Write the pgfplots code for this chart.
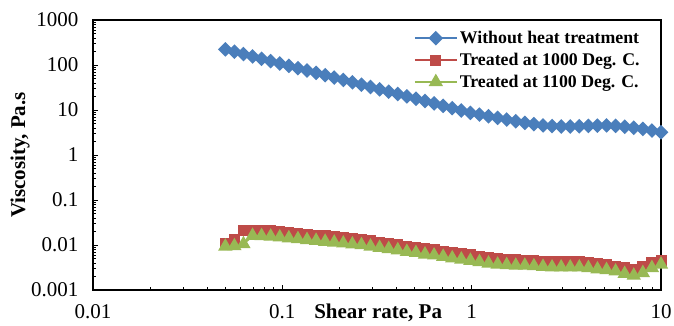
\documentclass[border=0pt]{standalone}
\usepackage{fontspec}
\setmainfont{Liberation Serif}
\usepackage{pgfplots}
\usepackage{pgfplotstable}
\pgfplotsset{compat=1.18}
\definecolor{cblue}{HTML}{4A7EBB}
\definecolor{cred}{HTML}{BE4B48}
\definecolor{cgreen}{HTML}{98B954}

\pgfplotstableread{
x blue red green
0.05000 222.6 0.0110 0.0093
0.05583 197.4 0.0130 0.0095
0.06234 175.0 0.0215 0.0105
0.06962 155.2 0.0215 0.0161
0.07773 137.6 0.0212 0.0159
0.08680 122.0 0.0207 0.0155
0.09696 108.1 0.0198 0.0149
0.10827 95.9 0.0189 0.0142
0.12090 85.0 0.0181 0.0136
0.13500 75.4 0.0173 0.0130
0.15076 66.8 0.0166 0.0125
0.16833 59.3 0.0159 0.0119
0.18799 52.5 0.0152 0.0114
0.20992 46.6 0.0145 0.0109
0.23446 41.3 0.0139 0.0104
0.26181 36.6 0.0133 0.0100
0.29236 32.5 0.0124 0.0093
0.32647 28.8 0.0116 0.0087
0.36457 25.5 0.0109 0.0082
0.40717 22.6 0.0102 0.0077
0.45466 20.1 0.0095 0.0071
0.50769 17.8 0.0089 0.0067
0.56692 15.8 0.0083 0.0062
0.63310 14.0 0.0078 0.0059
0.70703 12.4 0.0073 0.0055
0.78952 11.0 0.0068 0.0051
0.88166 9.75 0.0064 0.0048
0.98469 8.64 0.0060 0.0045
1.0996 7.90 0.0056 0.0042
1.2279 7.26 0.0052 0.0039
1.3712 6.68 0.0049 0.0037
1.5312 6.13 0.0048 0.0036
1.7100 5.64 0.0047 0.0035
1.9095 5.18 0.0046 0.0035
2.1324 4.85 0.0045 0.0034
2.3812 4.55 0.0044 0.0033
2.6590 4.40 0.0043 0.0032
2.9693 4.30 0.0042 0.0032
3.3158 4.30 0.0042 0.0032
3.7027 4.35 0.0042 0.0032
4.1348 4.42 0.0041 0.0031
4.6172 4.50 0.0039 0.0029
5.1560 4.55 0.0037 0.0028
5.7577 4.45 0.0034 0.0026
6.4295 4.25 0.0031 0.0023
7.1797 4.05 0.0028 0.0021
8.0176 3.80 0.0033 0.0024
8.9532 3.50 0.0041 0.0031
10.000 3.20 0.0046 0.0037
}\datatable

\begin{document}
\begin{tikzpicture}
\useasboundingbox (-93pt,-35pt) rectangle (581pt,290pt);
\begin{axis}[
  at={(0,0)}, anchor=south west,
  scale only axis, width=568pt, height=270pt,
  xmode=log, ymode=log,
  xmin=0.01, xmax=10, ymin=0.001, ymax=1000,
  xtick={0.01,0.1,1,10}, xticklabels={0.01,0.1,1,10},
  ytick={0.001,0.01,0.1,1,10,100,1000},
  yticklabels={0.001,0.01,0.1,1,10,100,1000},
  tick align=inside, xtick pos=bottom, ytick pos=left,
  major tick length=5pt, minor tick length=3pt,
  every tick/.style={black, line width=0.6pt},
  axis line style={line width=1.5pt},
  ticklabel style={font=\fontsize{21}{25}\selectfont},
  yticklabel style={xshift=-11pt},
  every x tick label/.append style={anchor=base, yshift=-28pt},
  xlabel={Shear rate, Pa},
  xlabel style={font=\bfseries\fontsize{21}{25}\selectfont, at={(axis description cs:0.502,-0.1037)}, anchor=base},
  ylabel={Viscosity, Pa.s},
  ylabel style={font=\bfseries\fontsize{21}{25}\selectfont, at={(axis description cs:-0.1285,0.5)}, anchor=center, rotate=0},
  legend style={at={(axis description cs:0.968,0.97)}, anchor=north east, draw=none, fill=none,
    font=\bfseries\fontsize{17.8}{20}\selectfont, row sep=4pt, inner sep=1pt},
  legend cell align=left,
  legend image code/.code={\draw[#1, mark repeat=2, mark phase=2] plot coordinates {(0pt,0pt)(21pt,0pt)(42pt,0pt)};},
]
\addplot[cblue, line width=2pt, mark=square*, mark size=4.2pt, mark options={rotate=45, solid, fill=cblue}] table[x=x, y=blue] {\datatable};
\addlegendentry{Without heat treatment}
\addplot[cred, line width=2pt, mark=square*, mark size=4.5pt, mark options={solid, fill=cred}] table[x=x, y=red] {\datatable};
\addlegendentry{Treated at 1000 Deg. C.}
\addplot[cgreen, line width=2pt, mark=triangle*, mark size=6.3pt, mark options={solid, fill=cgreen}] table[x=x, y=green] {\datatable};
\addlegendentry{Treated at 1100 Deg. C.}
\end{axis}
\end{tikzpicture}
\end{document}
